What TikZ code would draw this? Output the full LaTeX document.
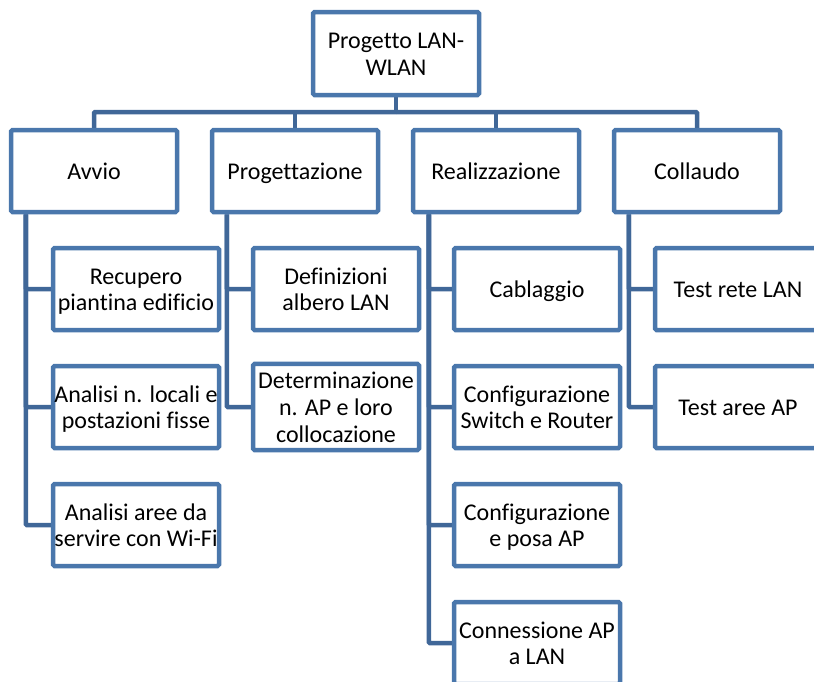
\documentclass[tikz,border=0pt]{standalone}
\usepackage{fontspec}
\setmainfont{Carlito}[Ligatures={NoCommon}]
\usetikzlibrary{backgrounds}
\definecolor{boxblue}{RGB}{74,119,172}
\definecolor{linkblue}{RGB}{64,103,152}
\newcommand\topstr{\rule{0pt}{24.7pt}}
\newcommand\botstr{\rule[-8pt]{0pt}{8pt}}
\begin{document}
\begin{tikzpicture}[x=1pt,y=-1pt,
  wbs/.style={draw=boxblue, line width=4.5pt, fill=white, rounded corners=1.5pt,
    minimum width=166pt, minimum height=82pt, inner sep=0pt, align=center,
    font=\fontsize{24}{26.7}\selectfont},
  link/.style={draw=linkblue, line width=4.5pt}]
\useasboundingbox (0,0) rectangle (814,681);
\clip (0,0) rectangle (814,681);
\node[wbs, minimum height=83pt] (root) at (396,53.5) {\topstr Progetto LAN-\\WLAN\botstr};
\node[wbs] (avvio) at (94,171) {\topstr Avvio\botstr};
\node[wbs] (prog) at (295,171) {\topstr Progettazione\botstr};
\node[wbs] (real) at (496,171) {\topstr Realizzazione\botstr};
\node[wbs] (coll) at (697,171) {\topstr Collaudo\botstr};
\node[wbs] (a1) at (136,289) {\topstr Recupero\\piantina edificio\botstr};
\node[wbs] (a2) at (136,407) {\topstr Analisi n. locali e\\postazioni fisse\botstr};
\node[wbs] (a3) at (136,525) {\topstr Analisi aree da\\servire con Wi-Fi\botstr};
\node[wbs] (p1) at (336,289) {\topstr Definizioni\\albero LAN\botstr};
\node[wbs] (p2) at (336,407) {\topstr Determinazione\\n. AP e loro\\collocazione\botstr};
\node[wbs] (r1) at (537,289) {\topstr Cablaggio\botstr};
\node[wbs] (r2) at (537,407) {\topstr Configurazione\\Switch e Router\botstr};
\node[wbs] (r3) at (537,525) {\topstr Configurazione\\e posa AP\botstr};
\node[wbs] (r4) at (537,643) {\topstr Connessione AP\\a LAN\botstr};
\node[wbs] (c1) at (738,289) {\topstr Test rete LAN\botstr};
\node[wbs] (c2) at (738,407) {\topstr Test aree AP\botstr};
\coordinate (bus) at (396,112);
\begin{pgfonlayer}{background}
\draw[link] (root.south) -- (bus);
\draw[link, rounded corners=1pt] (bus) -| (avvio.north);
\draw[link] (bus) -| (prog.north);
\draw[link] (bus) -| (real.north);
\draw[link, rounded corners=1pt] (bus) -| (coll.north);
\draw[link, rounded corners=1pt] ([xshift=17pt]avvio.south west) |- (a1.west);
\draw[link, rounded corners=1pt] ([xshift=17pt]avvio.south west) |- (a2.west);
\draw[link, rounded corners=1pt] ([xshift=17pt]avvio.south west) |- (a3.west);
\draw[link, rounded corners=1pt] ([xshift=17pt]prog.south west) |- (p1.west);
\draw[link, rounded corners=1pt] ([xshift=17pt]prog.south west) |- (p2.west);
\draw[link, rounded corners=1pt] ([xshift=18pt]real.south west) |- (r1.west);
\draw[link, rounded corners=1pt] ([xshift=18pt]real.south west) |- (r2.west);
\draw[link, rounded corners=1pt] ([xshift=18pt]real.south west) |- (r3.west);
\draw[link, rounded corners=1pt] ([xshift=18pt]real.south west) |- (r4.west);
\draw[link, rounded corners=1pt] ([xshift=17pt]coll.south west) |- (c1.west);
\draw[link, rounded corners=1pt] ([xshift=17pt]coll.south west) |- (c2.west);
\end{pgfonlayer}
\end{tikzpicture}
\end{document}
